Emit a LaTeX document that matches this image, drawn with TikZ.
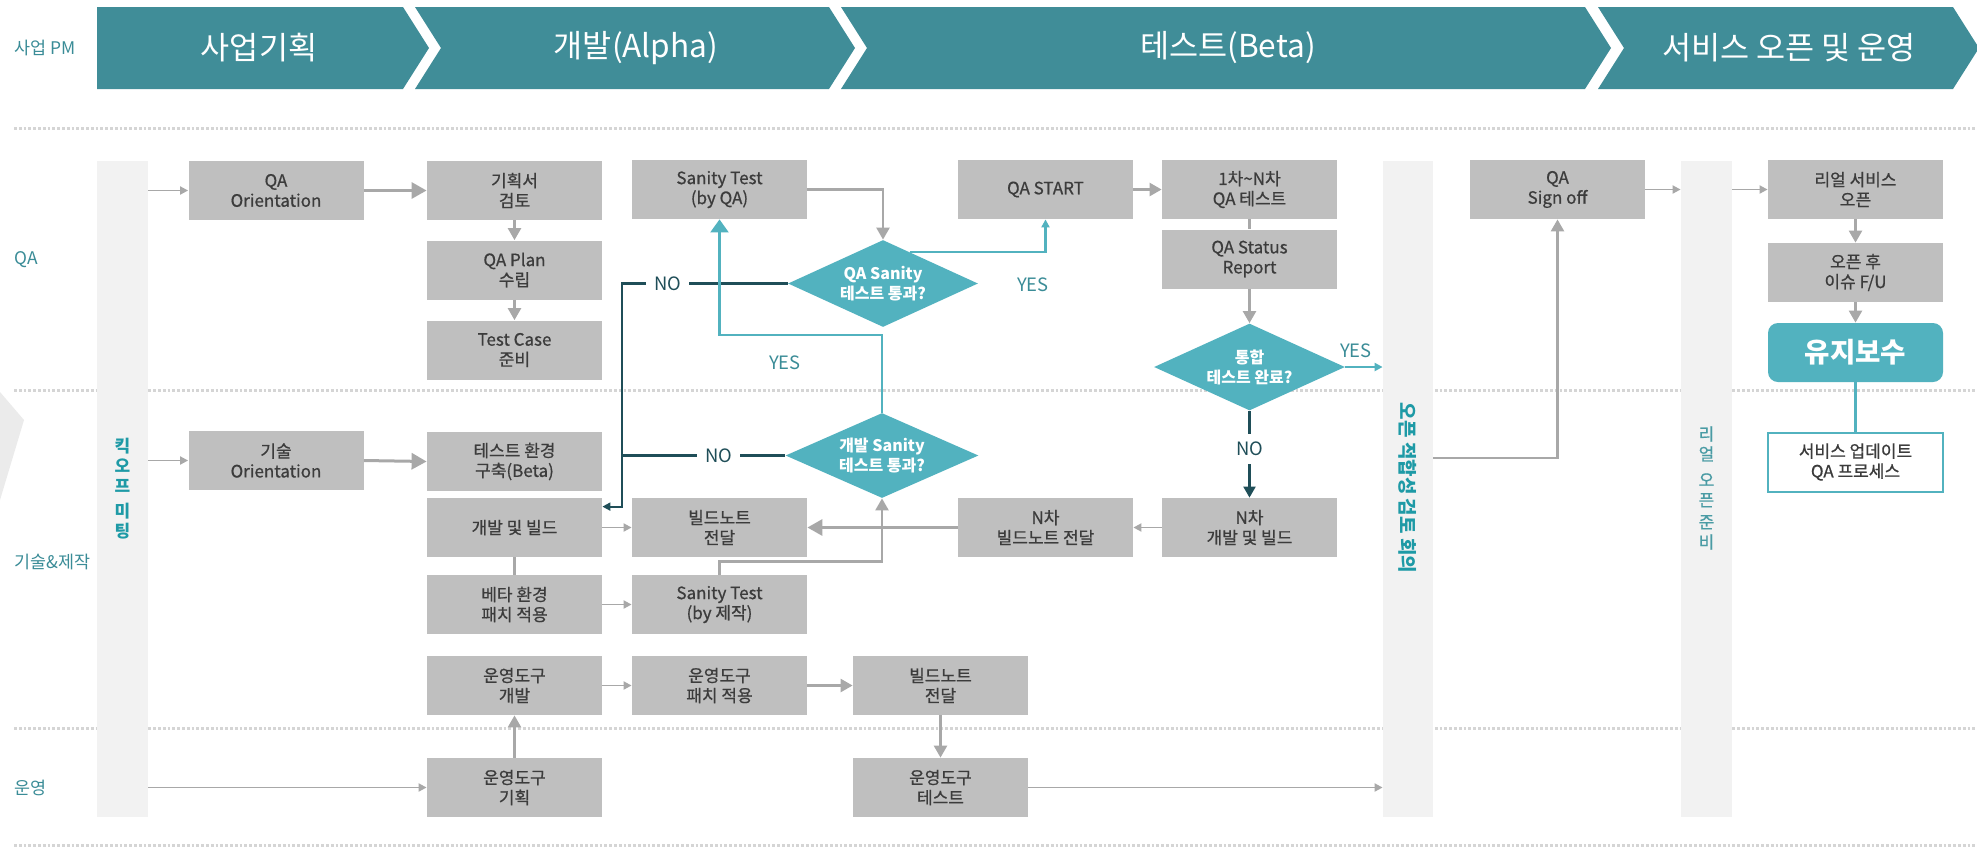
\documentclass[tikz,border=0pt]{standalone}
\usepackage{fontspec}
\setmainfont{Noto Sans CJK KR}
\newfontfamily\boxfamily{Noto Sans CJK KR}[FakeBold=0.7]
\usetikzlibrary{arrows.meta,shapes.geometric,calc}

\definecolor{bandteal}{HTML}{408D98}
\definecolor{laneteal}{HTML}{3A8C97}
\definecolor{decteal}{HTML}{52B2BF}
\definecolor{boxgrey}{HTML}{BFBFBF}
\definecolor{boxtext}{HTML}{3C3C3C}
\definecolor{linegrey}{HTML}{A8A8A8}
\definecolor{bargrey}{HTML}{F2F2F2}
\definecolor{nodark}{HTML}{1F4E58}
\definecolor{dotgrey}{HTML}{D5D5D5}
\definecolor{vtext}{HTML}{1E9AA6}
\definecolor{vtextlight}{HTML}{4A9BA4}
\definecolor{wedgegrey}{HTML}{EBEBEB}

\begin{document}
\begin{tikzpicture}[x=0.5pt,y=-0.5pt,
  box/.style={fill=boxgrey, draw=none, text=boxtext, minimum width=87.5pt,
    minimum height=29.5pt, inner sep=0pt, align=center,
    font=\boxfamily\fontsize{8.5}{10}\selectfont},
  dec/.style={diamond, fill=decteal, draw=none, inner sep=0pt},
  dectext/.style={text=white, align=center, inner sep=0pt,
    font=\bfseries\fontsize{8}{10}\selectfont},
  bar/.style={fill=bargrey, draw=none, inner sep=0pt, minimum height=328pt},
  band/.style={fill=bandteal, draw=none},
  bandtext/.style={text=white, inner sep=0pt, font=\fontsize{15.8}{18}\selectfont},
  lanelabel/.style={text=laneteal, anchor=west, inner sep=0pt,
    font=\fontsize{8.7}{10}\selectfont},
  dotline/.style={draw=dotgrey, line width=1.5pt, dash pattern=on 1.4pt off 1pt},
  thinarr/.style={draw=linegrey, line width=0.9pt, -{Triangle[length=4pt,width=4pt]}},
  medarr/.style={draw=linegrey, line width=1.2pt, -{Triangle[length=6pt,width=6.5pt]}},
  thickarr/.style={draw=linegrey, line width=1.5pt, -{Triangle[length=7.5pt,width=8pt]}},
  greyline/.style={draw=linegrey, line width=1.2pt},
  tealarr/.style={draw=decteal, line width=1.1pt, -{Triangle[length=6.5pt,width=9pt]}},
  tealsmall/.style={draw=decteal, line width=1.1pt, -{Triangle[length=4pt,width=4pt]}},
  tealline/.style={draw=decteal, line width=1.1pt},
  noline/.style={draw=nodark, line width=1.1pt},
  noarr/.style={noline, -{Triangle[length=4pt,width=4pt]}},
  nomedarr/.style={noline, -{Triangle[length=5.5pt,width=6pt]}},
  nolabel/.style={fill=white, text=nodark, inner xsep=4pt, inner ysep=4pt,
    font=\fontsize{9.2}{11}\selectfont},
  yeslabel/.style={text=laneteal, inner sep=0pt, font=\fontsize{9.2}{11}\selectfont},
]
\useasboundingbox (0,0) rectangle (1977,848);
\fill[white] (0,0) rectangle (1977,848);
% faint decorative wedge on the left edge
\fill[wedgegrey] (0,392) -- (24,420) -- (0,500) -- cycle;

% swim-lane separators
\draw[dotline] (14,128) -- (1977,128);
\draw[dotline] (14,390) -- (1977,390);
\draw[dotline] (14,728) -- (1977,728);
\draw[dotline] (14,845) -- (1977,845);

% phase band
\fill[band] (97,7) -- (403,7) -- (429,48) -- (403,89) -- (97,89) -- cycle;
\fill[band] (415,7) -- (829,7) -- (855,48) -- (829,89) -- (415,89) -- (441,48) -- cycle;
\fill[band] (841,7) -- (1585,7) -- (1611,48) -- (1585,89) -- (841,89) -- (867,48) -- cycle;
\fill[band] (1598,7) -- (1953,7) -- (1979,48) -- (1953,89) -- (1598,89) -- (1624,48) -- cycle;
\node[bandtext] (ph1) at (259,48) {사업기획};
\node[bandtext] (ph2) at (636,48) {개발(Alpha)};
\node[bandtext] (ph3) at (1228,48) {테스트(Beta)};
\node[bandtext] (ph4) at (1789,48) {서비스 오픈 및 운영};

% lane labels
\node[lanelabel] (lpm) at (14,48) {사업 PM};
\node[lanelabel] (lqa) at (14,260) {QA};
\node[lanelabel] (ltech) at (14,562) {기술\&제작};
\node[lanelabel] (lops) at (14,788) {운영};

% milestone bars
\node[bar, minimum width=25.5pt] (kick) at (122.5,489) {};
\node[bar, minimum width=25pt] (open) at (1408,489) {};
\node[bar, minimum width=25.5pt] (real) at (1706.5,489) {};
\node[text=vtext, align=center, inner sep=0pt, font=\bfseries\fontsize{8.5}{10}\selectfont]
  (kicktext) at (122.5,489) {킥\\오\\프\\[2.5pt]미\\팅};
\node[text=vtext, rotate=-90, inner sep=0pt, font=\bfseries\fontsize{9.5}{11}\selectfont]
  (opentext) at (1408,488) {오픈 적합성 검토 회의};
\node[text=vtextlight, align=center, inner sep=0pt, font=\boxfamily\fontsize{8.5}{10}\selectfont]
  (realtext) at (1706.5,488) {리\\얼\\[3pt]오\\픈\\[1pt]준\\비};

% QA lane
\node[box] (qaor) at (276,190.5) {QA\\Orientation};
\node[box] (plan1) at (514.5,190.5) {기획서\\검토};
\node[box] (qaplan) at (514.5,270) {QA Plan\\수립};
\node[box] (tcase) at (514.5,350) {Test Case\\준비};
\node[box] (sqa) at (719.5,189.5) {Sanity Test\\(by QA)};
\node[box] (qastart) at (1045.5,189.5) {QA START};
\node[box] (qatest) at (1249.5,189.5) {1차\textasciitilde N차\\QA 테스트};
\node[box] (qastatus) at (1249.5,259) {QA Status\\Report};
\node[box] (signoff) at (1557.5,189.5) {QA\\Sign off};
\node[box] (realopen) at (1855.5,189.5) {리얼 서비스\\오픈};
\node[box] (afteropen) at (1855.5,272.5) {오픈 후\\이슈 F/U};
\node[fill=decteal, rounded corners=5pt, minimum width=87.5pt, minimum height=29.5pt,
  inner sep=0pt, text=white, font=\bfseries\fontsize{13.8}{15}\selectfont]
  (maint) at (1855.5,352.5) {유지보수};
\node[box, fill=white, draw=decteal, line width=1pt] (updproc) at (1855.5,462)
  {서비스 업데이트\\QA 프로세스};

% decisions
\node[dec, minimum width=95pt, minimum height=43.5pt] (d1) at (883,283.5) {};
\node[dectext] (d1t) at (d1) {QA Sanity\\테스트 통과?};
\node[dec, minimum width=96.5pt, minimum height=42.5pt] (d2) at (882,455.5) {};
\node[dectext] (d2t) at (d2) {개발 Sanity\\테스트 통과?};
\node[dec, minimum width=95.5pt, minimum height=43.5pt] (d3) at (1249.5,367) {};
\node[dectext] (d3t) at (d3) {통합\\테스트 완료?};

% tech & production lane
\node[box] (techor) at (276,460.5) {기술\\Orientation};
\node[box] (testenv) at (514.5,461.5) {테스트 환경\\구축(Beta)};
\node[box] (devbuild) at (514.5,527.5) {개발 및 빌드};
\node[box] (betapatch) at (514.5,604.5) {베타 환경\\패치 적용};
\node[box] (bnote) at (719.5,527.5) {빌드노트\\전달};
\node[box] (sdev) at (719.5,604.5) {Sanity Test\\(by 제작)};
\node[box] (nnote) at (1045.5,527.5) {N차\\빌드노트 전달};
\node[box] (ndev) at (1249.5,527.5) {N차\\개발 및 빌드};
\node[box] (tooldev) at (514.5,685.5) {운영도구\\개발};
\node[box] (toolpatch) at (719.5,685.5) {운영도구\\패치 적용};
\node[box] (bnote2) at (940.5,685.5) {빌드노트\\전달};

% operations lane
\node[box] (toolplan) at (514.5,787.5) {운영도구\\기획};
\node[box] (tooltest) at (940.5,787.5) {운영도구\\테스트};

% bend points
\coordinate (nobend) at (622,283.5);
\coordinate (yesbend) at (719.5,335);
\coordinate (sgjoin) at (1500,458);

% QA lane flow
\draw[thinarr] (kick.east |- qaor.west) -- (qaor.west);
\draw[thickarr] (qaor.east) -- (plan1.west);
\draw[medarr] (plan1.south) -- (qaplan.north);
\draw[medarr] (qaplan.south) -- (tcase.north);
\draw[medarr] (sqa.east) -| (d1.north);
\draw[tealsmall] ($(d1.north)!0.28!(d1.east)$) -| (qastart.south);
\node[yeslabel] (yes1) at (1033,285) {YES};
\draw[medarr] (qastart.east) -- (qatest.west);
\draw[greyline] (qatest.south) -- (qastatus.north);
\draw[medarr] (qastatus.south) -- (d3.north);
\draw[tealsmall] (d3.east) -- (open.west |- d3.east);
\node[yeslabel] (yes3) at (1356,351) {YES};
\draw[medarr] (open.east |- sgjoin) -| (signoff.south);
\draw[thinarr] (signoff.east) -- (real.west |- signoff.east);
\draw[thinarr] (real.east |- realopen.west) -- (realopen.west);
\draw[medarr] (realopen.south) -- (afteropen.north);
\draw[medarr] (afteropen.south) -- (maint.north);
\draw[tealline] (maint.south) -- (updproc.north);

% sanity loops
\draw[noarr] (d1.west) -- node[nolabel, pos=0.723] (no1) {NO} (nobend)
  |- ($(devbuild.north east)+(0,9)$);
\draw[noline] (d2.west) -- node[nolabel, pos=0.407] (no2) {NO} (d2.west -| nobend);
\draw[tealarr] (d2.north) |- (yesbend) -- (sqa.south);
\node[yeslabel] (yes2) at (785,363) {YES};
\draw[medarr] (sdev.north) -- ++(0,-13) -| (d2.south);
\draw[nomedarr] (d3.south) -- node[nolabel, pos=0.44] (no3) {NO} (ndev.north);

% tech & production flow
\draw[thinarr] (kick.east |- techor.west) -- (techor.west);
\draw[thickarr] (techor.east) -- (testenv.west);
\draw[thinarr] (devbuild.east) -- (bnote.west);
\draw[greyline] (devbuild.south) -- (betapatch.north);
\draw[thinarr] (betapatch.east) -- (sdev.west);
\draw[thinarr] (ndev.west) -- (nnote.east);
\draw[thickarr] (nnote.west) -- (bnote.east);
\draw[thinarr] (tooldev.east) -- (toolpatch.west);
\draw[medarr] (toolpatch.east) -- (bnote2.west);
\draw[medarr] (bnote2.south) -- (tooltest.north);

% operations flow
\draw[thinarr] (kick.east |- toolplan.west) -- (toolplan.west);
\draw[medarr] (toolplan.north) -- (tooldev.south);
\draw[thinarr] (tooltest.east) -- (open.west |- tooltest.east);
\end{tikzpicture}
\end{document}
